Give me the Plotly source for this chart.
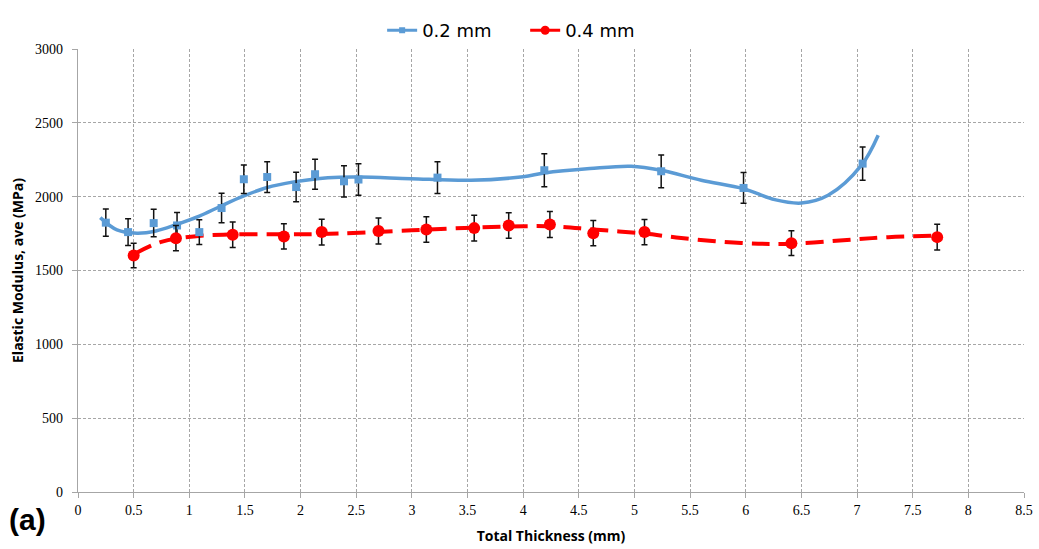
import plotly.graph_objects as go

# 0.2 mm measured points
x02 = [0.25, 0.45, 0.68, 0.89, 1.09, 1.29, 1.49, 1.70, 1.96, 2.13, 2.39, 2.52, 3.23, 4.19, 5.24, 5.98, 7.05]
y02 = [1824, 1760, 1821, 1805, 1760, 1923, 2118, 2133, 2065, 2152, 2104, 2116, 2129, 2179, 2172, 2059, 2224]
e02 = [92, 90, 93, 88, 84, 100, 97, 104, 100, 102, 106, 107, 107, 111, 111, 104, 113]

# 0.4 mm measured points
x04 = [0.50, 0.88, 1.39, 1.85, 2.19, 2.70, 3.13, 3.56, 3.87, 4.24, 4.63, 5.09, 6.41, 7.72]
y04 = [1602, 1719, 1742, 1731, 1760, 1767, 1778, 1787, 1805, 1812, 1753, 1760, 1685, 1726]
e04 = [83, 85, 86, 85, 87, 88, 86, 87, 86, 88, 86, 86, 84, 87]

# trendlines
tx02 = [0.20, 0.35, 0.53, 0.70, 0.88, 1.09, 1.28, 1.49, 1.70, 1.94, 2.15, 2.35, 2.54, 2.99, 3.53, 4.0, 4.19, 4.60, 4.97, 5.24, 5.60, 5.98, 6.26, 6.50, 6.74, 7.04, 7.19]
ty02 = [1858, 1775, 1753, 1768, 1810, 1868, 1935, 2005, 2062, 2100, 2122, 2132, 2133, 2122, 2111, 2135, 2160, 2190, 2206, 2179, 2111, 2054, 1980, 1957, 2009, 2213, 2416]

tx04 = [0.51, 0.74, 1.04, 1.39, 2.0, 2.35, 3.0, 3.55, 4.0, 4.3, 4.63, 5.09, 5.42, 5.96, 6.41, 6.95, 7.28, 7.70]
ty04 = [1613, 1692, 1731, 1744, 1745, 1750, 1772, 1790, 1800, 1798, 1778, 1750, 1720, 1686, 1681, 1709, 1726, 1735]

xticks = [0, 0.5, 1, 1.5, 2, 2.5, 3, 3.5, 4, 4.5, 5, 5.5, 6, 6.5, 7, 7.5, 8, 8.5]
xticklabels = ["0", "0.5", "1", "1.5", "2", "2.5", "3", "3.5", "4", "4.5", "5", "5.5", "6", "6.5", "7", "7.5", "8", "8.5"]
yticks = [0, 500, 1000, 1500, 2000, 2500, 3000]

BLUE = "#5B9BD5"
RED = "#FF0000"

fig = go.Figure()

fig.add_trace(go.Scatter(x=tx02, y=ty02, mode="lines", line=dict(color=BLUE, width=3.5, shape="spline", smoothing=1.0),
                         showlegend=False, hoverinfo="skip"))
fig.add_trace(go.Scatter(x=tx04, y=ty04, mode="lines", line=dict(color=RED, width=4, shape="spline", smoothing=1.0, dash="18px,9px"),
                         showlegend=False, hoverinfo="skip"))

fig.add_trace(go.Scatter(x=x02, y=y02, mode="markers",
                         marker=dict(symbol="square", size=8, color=BLUE),
                         error_y=dict(type="data", array=e02, color="#111111", thickness=1.5, width=3),
                         showlegend=False))
fig.add_trace(go.Scatter(x=x04, y=y04, mode="markers",
                         marker=dict(symbol="circle", size=12, color=RED),
                         error_y=dict(type="data", array=e04, color="#111111", thickness=1.5, width=3),
                         showlegend=False))

# legend entries
fig.add_trace(go.Scatter(x=[None], y=[None], mode="lines+markers", name="0.2 mm     ",
                         line=dict(color=BLUE, width=3), marker=dict(symbol="square", size=6, color=BLUE)))
fig.add_trace(go.Scatter(x=[None], y=[None], mode="lines+markers", name="0.4 mm",
                         line=dict(color=RED, width=3), marker=dict(symbol="circle", size=9, color=RED)))

fig.update_layout(
    width=1039, height=549,
    margin=dict(l=78, r=15, t=49, b=57),
    paper_bgcolor="white", plot_bgcolor="white",
    font=dict(family="Liberation Sans", color="#000000"),
    legend=dict(orientation="h", x=0.3215, xanchor="left", y=1.0, yanchor="bottom",
                xref="paper", yref="paper", font=dict(size=18, family="DejaVu Sans"),
                itemwidth=30, traceorder="normal", bgcolor="rgba(0,0,0,0)"),
    xaxis=dict(range=[0, 8.5], tickvals=xticks, ticktext=xticklabels, automargin=False,
               showgrid=True, gridcolor="#A6A6A6", griddash="3px,2px", gridwidth=1,
               showline=True, linecolor="#A6A6A6", linewidth=1.2,
               ticks="outside", ticklen=5, tickcolor="#A6A6A6",
               tickfont=dict(family="Liberation Serif", size=14),
               title=dict(text="<b>Total Thickness (mm)</b>", font=dict(family="Open Sans", size=14), standoff=14),
               zeroline=False, mirror=False),
    yaxis=dict(range=[0, 3000], tickvals=yticks, automargin=False,
               showgrid=True, gridcolor="#A6A6A6", griddash="3px,2px", gridwidth=1,
               showline=True, linecolor="#A6A6A6", linewidth=1.2,
               ticks="outside", ticklen=5, tickcolor="#A6A6A6",
               tickfont=dict(family="Liberation Serif", size=14), ticklabelstandoff=6,
               title=dict(text="<b>Elastic Modulus, ave (MPa)</b>", font=dict(family="Open Sans", size=14), standoff=8),
               zeroline=False),
)

fig.add_annotation(text="<b>(a)</b>", x=-0.075, y=-0.104, xref="paper", yref="paper",
                   xanchor="left", yanchor="bottom", showarrow=False,
                   font=dict(family="Liberation Sans", size=30, color="#000000"))

fig.write_html("out.html")
